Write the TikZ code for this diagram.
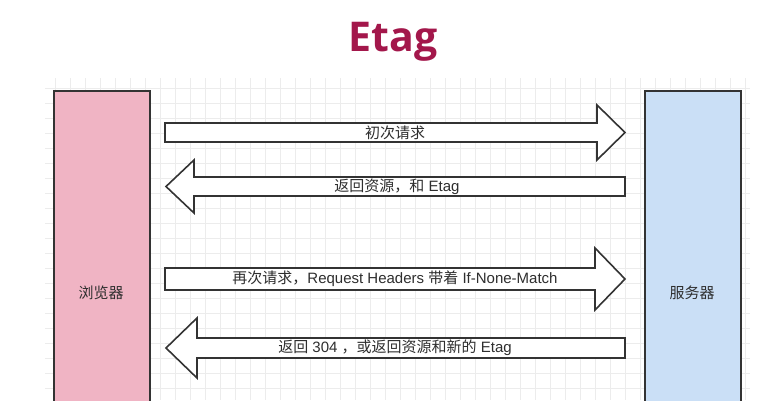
\documentclass[tikz,border=0pt]{standalone}
\usepackage{fontspec}
\setmainfont{Liberation Sans}
\newfontfamily\cjk{Noto Sans CJK SC}
\newfontfamily\titlefont{Open Sans}
\definecolor{titlered}{HTML}{A3174B}
\definecolor{pinkfill}{HTML}{F0B4C4}
\definecolor{bluefill}{HTML}{CADFF6}
\definecolor{edge}{HTML}{333333}
\definecolor{txt}{HTML}{2E2E2E}
\definecolor{gridc}{HTML}{ECECEC}
\tikzset{
  party/.style={draw=edge, line width=1.5pt, minimum width=96pt, minimum height=320pt, anchor=north west, inner sep=0pt},
  fatarrow/.style={draw=edge, line width=1.6pt, fill=white, line join=miter},
  lbl/.style={text=txt, font=\fontsize{15}{17}\selectfont, inner sep=0pt},
}
\begin{document}
\begin{tikzpicture}[x=1pt,y=-1pt]
\useasboundingbox (0,0) rectangle (784,400);
\fill[white] (0,0) rectangle (784,400);
% grid
\foreach \gx in {55,70,...,745} \draw[gridc, line width=0.6pt] (\gx,78) -- (\gx,400);
\foreach \gy in {88,103,...,400} \draw[gridc, line width=0.6pt] (45,\gy) -- (750,\gy);
% title
\node[text=titlered, font=\titlefont\bfseries\fontsize{41}{44}\selectfont] (title) at (393,42) {Etag};
% parties
\node[party, fill=pinkfill] (browser) at (53,90) {};
\node[party, fill=bluefill] (server) at (644,90) {};
\node[lbl] (browserlbl) at (101,293) {\cjk 浏览器};
\node[lbl] (serverlbl) at (692,293) {\cjk 服务器};
% arrow 1: browser -> server
\draw[fatarrow] (165,123) -- (597,123) -- (597,105) -- (625,132.5) -- (597,160) -- (597,142) -- (165,142) -- cycle;
\node[lbl] (a1) at (395,132.5) {\cjk 初次请求};
% arrow 2: server -> browser
\draw[fatarrow] (625,177) -- (194,177) -- (194,160) -- (166,186.5) -- (194,213) -- (194,196) -- (625,196) -- cycle;
\node[lbl] (a2) at (397,186.5) {{\cjk 返回资源，和} Etag};
% arrow 3
\draw[fatarrow] (165,268) -- (595,268) -- (595,248) -- (625,279) -- (595,310) -- (595,290) -- (165,290) -- cycle;
\node[lbl] (a3) at (395,279) {{\cjk 再次请求，}Request Headers {\cjk 带着} If-None-Match};
% arrow 4
\draw[fatarrow] (625,338) -- (197,338) -- (197,318) -- (166,348) -- (197,378) -- (197,358) -- (625,358) -- cycle;
\node[lbl] (a4) at (395,348) {{\cjk 返回} 304 {\cjk ，或返回资源和新的} Etag};
\end{tikzpicture}
\end{document}
